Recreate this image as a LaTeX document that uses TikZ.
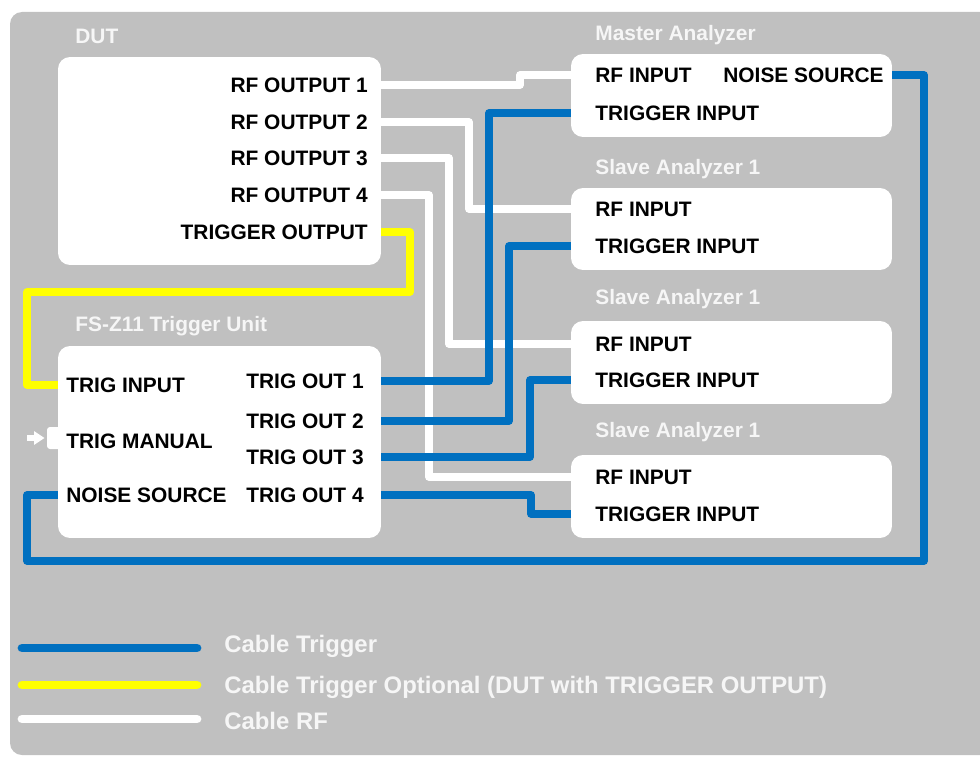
\documentclass[tikz,border=0pt]{standalone}
\usepackage{fontspec}
\setmainfont{Liberation Sans}
\usetikzlibrary{arrows.meta}
\definecolor{bggray}{RGB}{192,192,192}
\definecolor{cblue}{RGB}{0,112,192}
\definecolor{cyellow}{RGB}{255,255,0}
\definecolor{offwhite}{RGB}{246,246,246}
\begin{document}
\begin{tikzpicture}[x=0.02cm,y=-0.02cm,
    box/.style={fill=white,rounded corners=0.24cm,inner sep=0pt},
    lbl/.style={font=\fontsize{11.9}{14}\selectfont\bfseries,inner sep=0pt,text=black},
    ttl/.style={font=\fontsize{11.9}{14}\selectfont\bfseries,inner sep=0pt,text=offwhite,anchor=west},
    legtext/.style={ttl,font=\fontsize{13.6}{16}\selectfont\bfseries},
    trig/.style={draw=cblue,line width=4.25pt,line join=round},
    rfcable/.style={draw=white,line width=4.25pt,line join=round},
    optcable/.style={draw=cyellow,line width=4.25pt,line join=round},
    legline/.style={line width=5pt,line cap=round}]
    \useasboundingbox (0,0) rectangle (980,757);
    \fill[bggray,rounded corners=0.24cm] (10,12) rectangle (1000,755);
    \node[box,minimum width=6.46cm,minimum height=4.16cm] (dut) at (219.5,161) {};
    \node[box,minimum width=6.42cm,minimum height=1.66cm] (master) at (731.5,95.5) {};
    \node[box,minimum width=6.42cm,minimum height=1.64cm] (slaveA) at (731.5,229) {};
    \node[box,minimum width=6.42cm,minimum height=1.66cm] (slaveB) at (731.5,362.5) {};
    \node[box,minimum width=6.42cm,minimum height=1.66cm] (slaveC) at (731.5,496.5) {};
    \node[box,rounded corners=0.06cm,minimum width=0.3cm,minimum height=0.44cm] (tab) at (54.5,438) {};
    \node[box,minimum width=6.46cm,minimum height=3.84cm] (fsz) at (219.5,442) {};
    \node[ttl] (dutttl) at (75,36) {DUT};
    \node[ttl] (masterttl) at (595,35) {Master Analyzer};
    \node[ttl] (slaveAttl) at (595,169) {Slave Analyzer 1};
    \node[ttl] (slaveBttl) at (595,299) {Slave Analyzer 1};
    \node[ttl] (slaveCttl) at (595,432) {Slave Analyzer 1};
    \node[ttl] (fszttl) at (75,326) {FS-Z11 Trigger Unit};
    \node[lbl,anchor=east] (out1) at (368,85) {RF OUTPUT 1};
    \node[lbl,anchor=east] (out2) at (368,122) {RF OUTPUT 2};
    \node[lbl,anchor=east] (out3) at (368,158) {RF OUTPUT 3};
    \node[lbl,anchor=east] (out4) at (368,195) {RF OUTPUT 4};
    \node[lbl,anchor=east] (tout) at (368,232) {TRIGGER OUTPUT};
    \node[lbl,anchor=west] (mrf) at (595,75) {RF INPUT};
    \node[lbl,anchor=west] (mnoise) at (723,75) {NOISE SOURCE};
    \node[lbl,anchor=west] (mtrig) at (595,113) {TRIGGER INPUT};
    \node[lbl,anchor=west] (arf) at (595,209) {RF INPUT};
    \node[lbl,anchor=west] (atrig) at (595,246) {TRIGGER INPUT};
    \node[lbl,anchor=west] (brf) at (595,344) {RF INPUT};
    \node[lbl,anchor=west] (btrig) at (595,380) {TRIGGER INPUT};
    \node[lbl,anchor=west] (crf) at (595,477) {RF INPUT};
    \node[lbl,anchor=west] (ctrig) at (595,514) {TRIGGER INPUT};
    \node[lbl,anchor=west] (tin) at (66,385) {TRIG INPUT};
    \node[lbl,anchor=west] (tman) at (66,441) {TRIG MANUAL};
    \node[lbl,anchor=west] (tnoise) at (66,495) {NOISE SOURCE};
    \node[lbl,anchor=west] (tout1) at (246,381) {TRIG OUT 1};
    \node[lbl,anchor=west] (tout2) at (246,421) {TRIG OUT 2};
    \node[lbl,anchor=west] (tout3) at (246,457) {TRIG OUT 3};
    \node[lbl,anchor=west] (tout4) at (246,495) {TRIG OUT 4};
    \draw[rfcable] (dut.east |- out1) -- (520,85) |- (master.west |- mrf);
    \draw[rfcable] (dut.east |- out2) -| (469,209) -- (slaveA.west |- arf);
    \draw[rfcable] (dut.east |- out3) -| (449,344) -- (slaveB.west |- brf);
    \draw[rfcable] (dut.east |- out4) -| (429,477) -- (slaveC.west |- crf);
    \draw[trig] (fsz.east |- tout1) -| (489,113) -- (master.west |- mtrig);
    \draw[trig] (fsz.east |- tout2) -| (509,246) -- (slaveA.west |- atrig);
    \draw[trig] (fsz.east |- tout3) -| (530,380) -- (slaveB.west |- btrig);
    \draw[trig] (fsz.east |- tout4) -| (531,514) -- (slaveC.west |- ctrig);
    \draw[trig] (master.east |- mnoise) -| (924,561) -| (27,495) -- (fsz.west |- tnoise);
    \draw[optcable] (dut.east |- tout) -| (410,292) -| (27,385) -- (fsz.west |- tin);
    \coordinate (manual) at (27,438);
    \draw[white,line width=3pt,-{Triangle[length=6pt,width=7.5pt]},shorten >=1.2pt] (manual) -- (tab.west);
    \draw[legline,cblue] (22,648) -- (197,648);
    \draw[legline,cyellow] (22,685) -- (197,685);
    \draw[legline,white] (22,719) -- (197,719);
    \node[legtext] (legtrig) at (224,646) {Cable Trigger};
    \node[legtext] (legopt) at (224,687) {Cable Trigger Optional (DUT with TRIGGER OUTPUT)};
    \node[legtext] (legrf) at (224,721) {Cable RF};
\end{tikzpicture}
\end{document}
